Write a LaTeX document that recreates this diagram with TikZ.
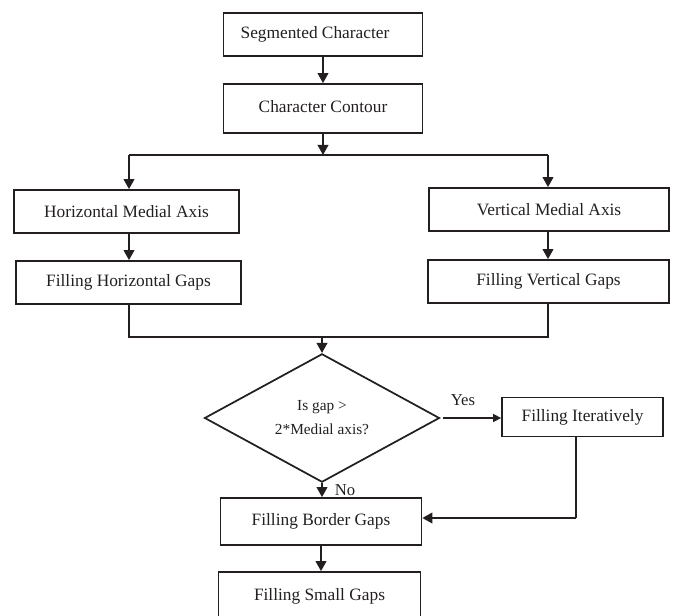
\documentclass[tikz,border=0pt]{standalone}
\usepackage{fontspec}
\setmainfont{Liberation Serif}
\usetikzlibrary{arrows.meta,shapes.geometric}
\definecolor{ink}{HTML}{231F20}
\begin{document}
\begin{tikzpicture}[x=0.75pt,y=-0.75pt,
  box/.style={draw=ink,line width=1.3pt,rectangle,inner sep=0pt,text=ink,
    font=\fontsize{13}{15}\selectfont},
  dia/.style={draw=ink,line width=1.3pt,diamond,inner sep=0pt,text=ink,
    font=\fontsize{11.5}{18}\selectfont,align=center,
    minimum width=176.25pt,minimum height=78pt},
  lbl/.style={text=ink,font=\fontsize{12.5}{14}\selectfont,inner sep=0pt},
  conn/.style={draw=ink,line width=1.2pt},
  arr/.style={conn,-{Triangle[length=7.5pt,width=8pt]}},
  thinarr/.style={draw=ink,line width=0.8pt,-{Triangle[length=6pt,width=6pt]}}]
\useasboundingbox (0,0) rectangle (677,616);
% boxes
\node[box,minimum width=149.25pt,minimum height=32.25pt] (seg) at (323,34.5) {\hspace*{-12pt}Segmented Character};
\node[box,minimum width=149.25pt,minimum height=36.75pt] (cont) at (323,108.5) {\raisebox{3pt}{Character Contour}};
\node[box,minimum width=168.75pt,minimum height=32.25pt] (hma) at (126.5,211.5) {Horizontal Medial Axis};
\node[box,minimum width=168.75pt,minimum height=32.25pt] (fhg) at (128.5,282.5) {Filling Horizontal Gaps};
\node[box,minimum width=180pt,minimum height=32.25pt] (vma) at (549,209.5) {Vertical Medial Axis};
\node[box,minimum width=180.75pt,minimum height=32.25pt] (fvg) at (548.5,281.5) {Filling Vertical Gaps};
\node[dia] (dec) at (322,418) {Is gap >\\2*Medial axis?};
\node[box,minimum width=120.75pt,minimum height=29.25pt] (fit) at (582.5,417) {Filling Iteratively};
\node[box,minimum width=150.75pt,minimum height=35.25pt] (fbg) at (321,521.5) {\raisebox{2pt}{Filling Border Gaps}};
\node[box,minimum width=151.5pt,minimum height=36pt] (fsg) at (319.5,596) {\raisebox{3pt}{Filling Small Gaps}};
% labels
\node[lbl] (yes) at (463,400) {Yes};
\node[lbl] (no) at (345,490) {No};
% helper coordinates
\coordinate (split) at (323,155);
\coordinate (sl) at (129,155);
\coordinate (sr) at (548,155);
\coordinate (jl) at (129,337);
\coordinate (jr) at (548,337);
\coordinate (jc) at (322,337);
\coordinate (fd) at (576,518);
% connectors
\draw[arr] (seg.south) -- (cont.north);
\draw[arr] (cont.south -| split) -- (split);
\draw[conn] (sl) -- (sr);
\draw[arr] (sl) -- (sl |- hma.north);
\draw[arr] (sr) -- (sr |- vma.north);
\draw[arr] (hma.south -| sl) -- (fhg.north -| sl);
\draw[arr] (vma.south -| sr) -- (fvg.north -| sr);
\draw[conn] (fhg.south -| jl) -- (jl) -- (jr) -- (fvg.south -| jr);
\draw[arr] (jc) -- (dec.north);
\draw[thinarr] ([xshift=2pt]dec.east) -- (dec.east -| fit.west);
\draw[arr] (dec.south) -- (fbg.north -| dec.south);
\draw[conn] (fit.south -| fd) -- (fd);
\draw[arr] (fd) -- (fd -| fbg.east);
\draw[arr] (fbg.south) -- (fsg.north -| fbg.south);
\end{tikzpicture}
\end{document}
